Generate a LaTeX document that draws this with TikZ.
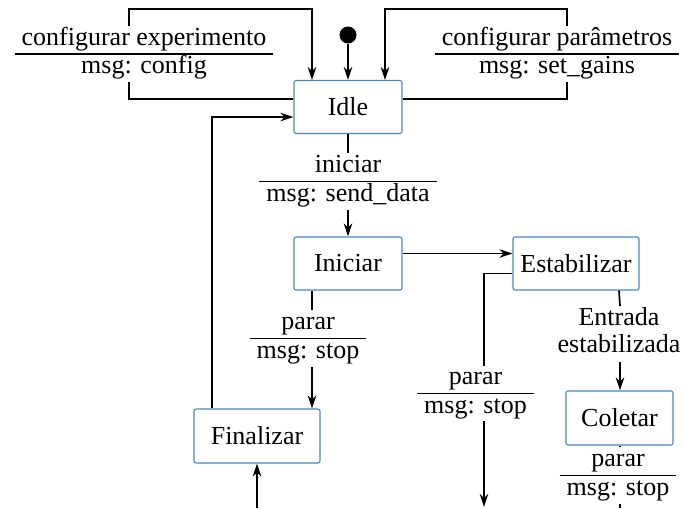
\documentclass[tikz,border=0pt]{standalone}
\usepackage{fontspec}
\setmainfont{Liberation Serif}
\usetikzlibrary{arrows.meta}
\definecolor{boxblue}{RGB}{74,134,194}
\newcommand\edgelbl[2]{\begin{tabular}{@{\hspace{7pt}}c@{\hspace{7pt}}}#1\\\hline #2\end{tabular}}
\setlength{\arrayrulewidth}{1.5pt}
\begin{document}
\begin{tikzpicture}[x=1pt,y=-1pt,
  font=\fontsize{26}{27}\selectfont,
  state/.style={draw=boxblue,line width=1.1pt,rounded corners=2pt,minimum height=53pt,inner sep=0pt},
  lbl/.style={inner sep=0pt,fill=white},
  arr/.style={-{Stealth[length=13pt,width=8.5pt,inset=4pt]}},
  every path/.style={line width=1.7pt}]
\useasboundingbox (0,0) rectangle (684,508);
% states
\node[state,minimum width=108pt] (idle) at (348,107) {Idle};
\node[state,minimum width=108pt] (ini) at (348,263.5) {Iniciar};
\node[state,minimum width=126pt] (est) at (576,263.5) {Estabilizar};
\node[state,minimum width=126pt,minimum height=54pt] (fin) at (257,436) {Finalizar};
\node[state,minimum width=107pt,minimum height=54pt] (col) at (619.5,418) {Coletar};
\node[circle,fill=black,inner sep=0pt,minimum size=17pt] (start) at (348,35) {};
% coordinates
\coordinate (lc) at (129,9);
\coordinate (rc) at (567,9);
\coordinate (x312) at (312,0);
\coordinate (x620) at (620,0);
\coordinate (mend) at (484,507);
\coordinate (fstart) at (257,508);
\coordinate (cend) at (620,508);
% edges
\draw[arr] (start) -- (idle);
\draw[arr] ([yshift=8pt]idle.west) -| (lc) -| ([xshift=-36pt]idle.north);
\draw[arr] ([yshift=8pt]idle.east) -| (rc) -| ([xshift=37pt]idle.north);
\node[lbl] (lcfg) at (144,54) {\edgelbl{configurar experimento}{msg: config}};
\node[lbl] (rcfg) at (557,54) {\edgelbl{configurar parâmetros}{msg: set\_gains}};
% idle -> iniciar
\node[lbl] (lini) at (348,181.5) {\edgelbl{iniciar}{msg: send\_data}};
\draw (idle) -- (lini);
\draw[arr] (lini) -- (ini);
% iniciar -> estabilizar
\draw[arr] ([yshift=10pt]ini.east) -- ([yshift=10pt]est.west);
% iniciar -> finalizar
\node[lbl] (lpar1) at (308,338.5) {\edgelbl{parar}{msg: stop}};
\draw ([xshift=-36pt]ini.south) -- (lpar1.north -| x312);
\draw[arr] (lpar1.south -| x312) -- ([xshift=55pt]fin.north);
% finalizar -> idle
\draw[arr] ([xshift=-45pt]fin.north) |- ([yshift=-10pt]idle.west);
\draw[arr] (fstart) -- (fin);
% estabilizar -> down
\draw[arr] ([yshift=-10pt]est.west) -| (mend);
\node[lbl] (lpar2) at (475.5,393.5) {\edgelbl{parar}{msg: stop}};
% estabilizar -> coletar
\node[lbl,align=center] (lent) at (619,334) {\strut Entrada\\\strut estabilizada};
\draw ([xshift=43pt]est.south) -- (lent.north -| x620);
\draw[arr] (lent.south -| x620) -- (col.north -| x620);
% coletar -> down
\node[lbl] (lpar3) at (618,475.5) {\edgelbl{parar}{msg: stop}};
\draw (col.south -| x620) -- (lpar3.north -| x620);
\draw (lpar3.south -| x620) -- (cend);
\end{tikzpicture}
\end{document}
